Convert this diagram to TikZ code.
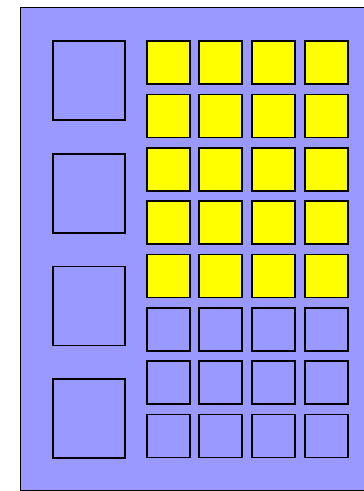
\documentclass[tikz,border=0pt]{standalone}
\definecolor{bgblue}{RGB}{153,153,255}
\definecolor{cellyellow}{RGB}{255,255,0}
\tikzset{
  bigbox/.style={draw=black, line width=1.8pt, minimum width=72pt, minimum height=79pt, inner sep=0pt, anchor=north west},
  cellbox/.style={draw=black, line width=1.8pt, minimum width=43pt, minimum height=43pt, inner sep=0pt, anchor=north west},
  yellowcell/.style={cellbox, fill=cellyellow},
}
\begin{document}
\begin{tikzpicture}[x=1pt,y=-1pt]
\useasboundingbox (0,0) rectangle (364,491);
\clip (0,0) rectangle (364,491);
\node[draw=black, line width=1.8pt, fill=bgblue, minimum width=352pt, minimum height=483pt, inner sep=0pt, anchor=north west] (frame) at (19.5,6.5) {};
\foreach \i/\y in {1/40.3,2/153,3/265.5,4/378} {
  \node[bigbox] (big\i) at (52,\y) {};
}
\foreach \r in {1,...,8} {
  \foreach \c in {1,...,4} {
    \pgfmathsetmacro{\xx}{145.7+(\c-1)*52.67}
    \pgfmathsetmacro{\yy}{40.3+(\r-1)*53.34}
    \ifnum\r<6
      \node[yellowcell] (cell\r\c) at (\xx,\yy) {};
    \else
      \node[cellbox] (cell\r\c) at (\xx,\yy) {};
    \fi
  }
}
\end{tikzpicture}
\end{document}
